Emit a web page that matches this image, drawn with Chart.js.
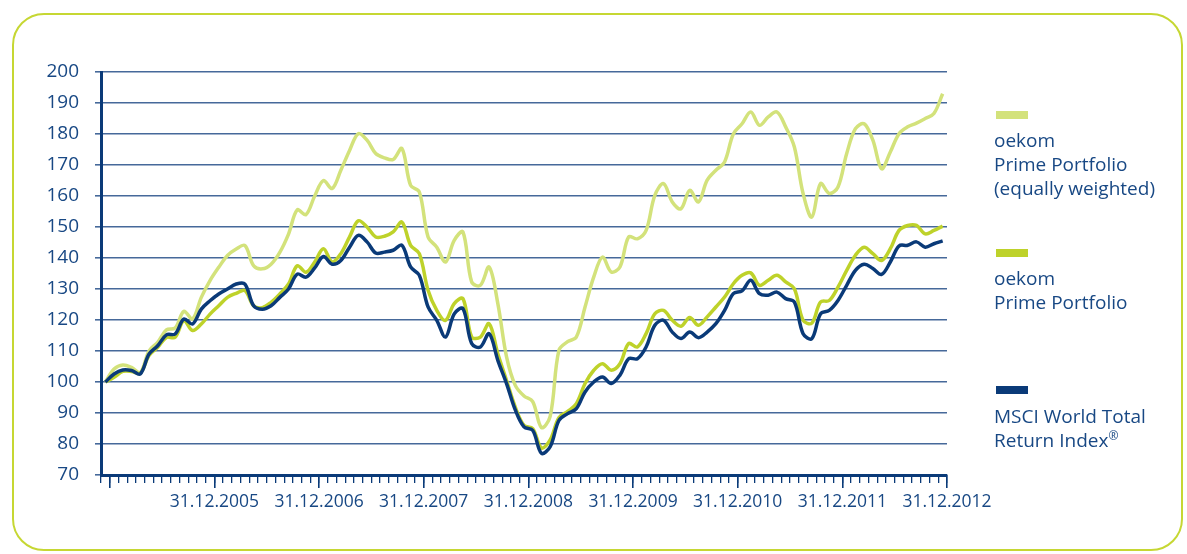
<!DOCTYPE html>
<html>
<head>
<meta charset="utf-8">
<script src="https://cdn.jsdelivr.net/npm/chart.js@4.4.1/dist/chart.umd.min.js"></script>
<style>
  body { margin: 0; background: #fff; }
  #wrap { position: relative; width: 1187px; height: 554px; overflow: hidden; }
  #frame { position: absolute; left: 12px; top: 13px; width: 1171px; height: 538px; box-sizing: border-box;
           border: 2.5px solid #c6d733; border-radius: 32px; }
  canvas { position: absolute; left: 0; top: 0; }
  .leg { position: absolute; left: 994px; font: 19px "Open Sans", sans-serif; line-height: 24px; color: #184884; white-space: nowrap; }
  .leg sup { font-size: 12px; line-height: 0; vertical-align: 7px; }
  .sw { position: absolute; left: 996px; width: 32px; height: 8px; }
</style>
</head>
<body>
<div id="wrap">
  <div id="frame"></div>
  <canvas id="chart" width="1187" height="554"></canvas>
  <div class="sw" style="top:111px;background:#d3e27b"></div>
  <div class="leg" style="top:128px">oekom<br>Prime Portfolio<br>(equally weighted)</div>
  <div class="sw" style="top:249px;background:#bed22a"></div>
  <div class="leg" style="top:266px">oekom<br>Prime Portfolio</div>
  <div class="sw" style="top:386px;background:#0a3a78"></div>
  <div class="leg" style="top:404px">MSCI World Total<br>Return Index<sup>®</sup></div>
</div>
<script>
// monthly readings, Dec 2004 .. Dec 2012
const equallyWeighted = [100,104.2,105.5,104.7,103,110,112.8,116.8,117.4,122.8,120.3,127.3,132.7,137,140.8,142.9,144,137.5,136.5,138,141.8,147.7,155.5,154,160,165,162.4,168.3,174.7,180.1,178,173.7,172.3,171.8,175.3,163.4,161.3,146.8,143.5,138.7,145.7,148.4,132.3,131.2,137.1,125.3,108.1,98.9,95.5,93.7,85.3,88.9,110.2,113,114.5,124.2,133.9,140.3,135.5,137.1,146.8,146.2,148.9,160.2,164,158.1,155.9,161.8,158.1,165.1,168.3,171,180,183.3,187.1,182.8,185.5,187.1,182.3,175.8,160.8,153.2,164,160.8,162.9,173.7,181.7,183.3,178,168.8,174.2,180.1,182.3,183.5,185,186.6,193];
const primePortfolio = [100,101.5,103.4,103.4,102.8,108.5,111.2,114.4,114.4,119.8,116.6,118.7,121.9,124.6,127.3,128.6,129.5,124.6,124,125.7,128.4,131.6,137.5,135.4,138.7,143,138.7,141.4,146.8,152,150,146.8,147,148.4,151.6,144.1,141.4,129.6,123.1,119.9,125.3,126.9,114.5,114.5,118.8,109.1,100.5,91.9,86,85,78.7,81.3,88.5,90.5,93,99.5,103.8,105.9,103.8,105.9,112.4,111.3,115.6,122,123.1,119.9,118,120.8,118.3,121,124.2,127.4,131.7,134.4,135.2,131.2,132.8,134.4,132.3,130.1,119.9,119,125.8,126.3,130.6,136,140.9,143.5,141.4,139.2,143,148.9,150.5,150.5,147.8,148.9,150.3];
const msciWorld = [100,102.6,103.9,103.7,102.6,109,111.7,115.2,115.5,120.3,118.7,123.5,126.2,128.4,130,131.6,131.6,124.6,123.5,124.6,127.3,130,134.8,133.8,136.8,140.5,138,139.2,143.5,147.3,145.2,141.6,141.9,142.5,144.1,137.1,134.4,124.2,119.9,114.5,122,123.7,112.4,111.3,115.6,107,99.5,91,85.5,84.4,77,79.1,87.6,89.8,91.4,96.8,100,101.6,99.5,102.2,107.5,107.5,111.3,118.3,119.9,116.1,114,116.1,114.3,116.1,118.8,123.1,128.5,129.4,132.8,128.5,128,129,126.9,125.8,115.6,114,122,123.1,126.3,131.2,136,138,136.6,134.7,138.7,143.9,144.1,145.2,143.5,144.6,145.5];

// x axis runs in months from 30.11.2004 (0) to 31.12.2012 (97)
const majorTicks = [1,13,25,37,49,61,73,85,97];
const tickLabels = ['','31.12.2005','31.12.2006','31.12.2007','31.12.2008','31.12.2009','31.12.2010','31.12.2011','31.12.2012'];

const navy = '#0a3a78';
const textCol = '#184884';
const gridCol = '#46699a';
const fontFam = '"Open Sans", sans-serif';

const toPts = arr => arr.map((v, i) => ({ x: i + 0.5, y: v }));

new Chart('chart', {
  type: 'line',
  data: {
    datasets: [
      { label: 'MSCI World Total Return Index®', data: toPts(msciWorld), borderColor: navy, order: 0 },
      { label: 'oekom Prime Portfolio', data: toPts(primePortfolio), borderColor: '#bed22a', order: 1 },
      { label: 'oekom Prime Portfolio (equally weighted)', data: toPts(equallyWeighted), borderColor: '#d3e27b', order: 2 }
    ]
  },
  options: {
    responsive: false,
    animation: false,
    elements: {
      line: { borderWidth: 3.5, tension: 0.35, fill: false },
      point: { radius: 0 }
    },
    layout: { padding: { left: 0, top: 72, right: 240, bottom: 79 } },
    plugins: { legend: { display: false }, tooltip: { enabled: false } },
    scales: {
      y: {
        min: 70, max: 200,
        afterFit: s => { s.width = 101; },
        ticks: { stepSize: 10, color: textCol, padding: 16, font: { family: fontFam, size: 19 } },
        grid: { color: gridCol, lineWidth: 1.6, tickLength: 6 },
        border: { color: navy, width: 3 }
      },
      x: {
        type: 'linear', min: 0, max: 97,
        position: { y: 70 },
        ticks: { stepSize: 1, autoSkip: false, display: false },
        grid: { drawOnChartArea: false, tickLength: 6, color: navy, lineWidth: 1.3 },
        border: { color: navy, width: 3 }
      },
      xMajor: {
        type: 'linear', axis: 'x', min: 0, max: 97,
        position: { y: 70 },
        afterBuildTicks: s => { s.ticks = majorTicks.map(v => ({ value: v })); },
        ticks: {
          autoSkip: false, maxRotation: 0, color: textCol, padding: 4,
          font: { family: fontFam, size: 17.5 },
          callback: v => tickLabels[majorTicks.indexOf(v)]
        },
        grid: { drawOnChartArea: false, tickLength: 13, color: navy, lineWidth: 1.6 },
        border: { display: false }
      }
    }
  }
});
</script>
</body>
</html>
